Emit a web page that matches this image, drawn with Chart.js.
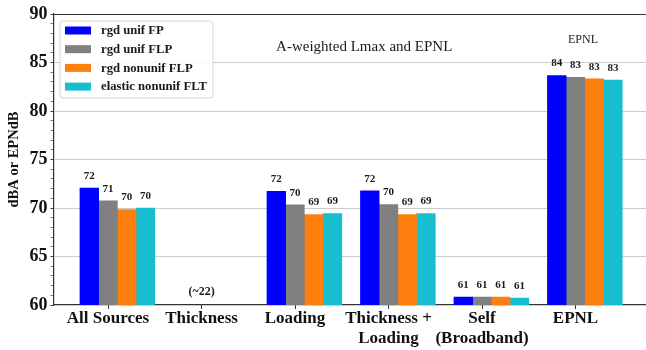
<!DOCTYPE html>
<html>
<head>
<meta charset="utf-8">
<script src="https://cdn.jsdelivr.net/npm/chart.js@4/dist/chart.umd.min.js"></script>
<style>
  html, body { margin: 0; padding: 0; background: #fff; }
  #wrap { width: 646px; height: 350px; }
</style>
</head>
<body>
<div id="wrap"><canvas id="c" width="646" height="350"></canvas></div>
<script>
// Source categories along the x axis
const categories = ['All Sources', 'Thickness', 'Loading', ['Thickness +', 'Loading'], ['Self', '(Broadband)'], 'EPNL'];

// Series names
const seriesNames = ['rgd unif FP', 'rgd unif FLP', 'rgd nonunif FLP', 'elastic nonunif FLT'];

// Levels in dBA (Lmax) or EPNdB (EPNL column)
const rgdUnifFP         = [72.05, 22, 71.73, 71.77, 60.82, 83.65];
const rgdUnifFLP        = [70.75, 22, 70.32, 70.35, 60.82, 83.46];
const rgdNonunifFLP     = [69.85, 22, 69.32, 69.32, 60.82, 83.32];
const elasticNonunifFLT = [70.00, 22, 69.42, 69.42, 60.72, 83.18];

// Y axis tick values
const yTicks = [60, 65, 70, 75, 80, 85, 90];

const seriesValues = [rgdUnifFP, rgdUnifFLP, rgdNonunifFLP, elasticNonunifFLT];
const seriesColors = ['#0000ff', '#808080', '#ff7f0e', '#17becf'];
const barWidth = 0.2;   // bar width in category units
const SERIF = "'Liberation Serif', 'Times New Roman', serif";

const datasets = seriesValues.map((vals, k) => ({
  label: seriesNames[k],
  backgroundColor: seriesColors[k],
  borderWidth: 0,
  grouped: false,
  categoryPercentage: 1.0,
  barPercentage: 1.0,
  data: vals.map((v, i) => ({ x: i + (k - 1) * barWidth, y: v }))
}));

// Value labels above bars; off-scale groups get a single "(~N)" note
const valueLabels = {
  id: 'valueLabels',
  afterDatasetsDraw(chart) {
    const ctx = chart.ctx;
    const y = chart.scales.y, x = chart.scales.x;
    ctx.save();
    ctx.fillStyle = '#1a1a1a';
    ctx.textAlign = 'center';
    ctx.textBaseline = 'middle';
    ctx.font = 'bold 11px ' + SERIF;
    chart.data.datasets.forEach((ds, k) => {
      const meta = chart.getDatasetMeta(k);
      meta.data.forEach((bar, i) => {
        const v = ds.data[i].y;
        if (v >= y.min) ctx.fillText(String(Math.round(v)), bar.x, bar.y - 12);
      });
    });
    ctx.font = 'bold 12px ' + SERIF;
    categories.forEach((c, i) => {
      const vals = seriesValues.map(s => s[i]);
      if (vals.every(v => v < y.min)) {
        const v = Math.round(Math.min(...vals));
        ctx.fillText('(~' + v + ')', x.getPixelForValue(i), chart.chartArea.bottom - 13);
      }
    });
    ctx.restore();
  }
};

// In-plot legend, titles and top frame line
const decorations = {
  id: 'decorations',
  afterDraw(chart) {
    const ctx = chart.ctx;
    const a = chart.chartArea;
    const x = chart.scales.x, y = chart.scales.y;
    ctx.save();
    // top frame
    ctx.strokeStyle = '#333';
    ctx.lineWidth = 1.2;
    ctx.beginPath();
    ctx.moveTo(a.left, Math.round(a.top) + 0.5);
    ctx.lineTo(a.right, Math.round(a.top) + 0.5);
    ctx.stroke();

    // text annotations
    ctx.fillStyle = '#1a1a1a';
    ctx.textAlign = 'center';
    ctx.textBaseline = 'middle';
    ctx.font = '15px ' + SERIF;
    ctx.fillText('A-weighted Lmax and EPNL', x.getPixelForValue(2.74), y.getPixelForValue(86.6));
    ctx.font = '12px ' + SERIF;
    ctx.fillText('EPNL', x.getPixelForValue(5.08), y.getPixelForValue(87.3));

    // legend box
    const lx = a.left + 6.5, ly = a.top + 7, lw = 153, lh = 77;
    ctx.fillStyle = 'rgba(255,255,255,0.85)';
    ctx.strokeStyle = '#d4d4d4';
    ctx.lineWidth = 1;
    ctx.beginPath();
    ctx.roundRect(lx, ly, lw, lh, 3);
    ctx.fill();
    ctx.stroke();
    ctx.font = 'bold 12.7px ' + SERIF;
    ctx.textAlign = 'left';
    chart.data.datasets.forEach((ds, k) => {
      const ry = ly + 9.5 + k * 18.7;
      ctx.fillStyle = ds.backgroundColor;
      ctx.fillRect(lx + 5, ry - 4, 26, 8);
      ctx.fillStyle = '#1a1a1a';
      ctx.fillText(ds.label, lx + 41, ry + 0.5);
    });
    ctx.restore();
  }
};

new Chart(document.getElementById('c'), {
  type: 'bar',
  data: { datasets },
  plugins: [valueLabels, decorations],
  options: {
    responsive: false,
    animation: false,
    events: [],
    layout: { padding: { top: 14, right: 0, left: 0, bottom: 0 } },
    plugins: { legend: { display: false }, tooltip: { enabled: false } },
    scales: {
      x: {
        type: 'linear',
        offset: false,
        min: -0.583,
        max: 5.754,
        afterBuildTicks: (s) => { s.ticks = categories.map((c, i) => ({ value: i })); },
        afterFit: (s) => { s.height = 45; },
        ticks: {
          autoSkip: false,
          maxRotation: 0,
          padding: 0,
          color: '#111',
          font: { family: SERIF, size: 17, weight: 'bold', lineHeight: 1.18 },
          callback: (v) => categories[Math.round(v)]
        },
        grid: { offset: false, drawOnChartArea: false, drawTicks: true, tickLength: 4, tickColor: '#333', tickWidth: 1 },
        border: { display: true, color: '#333', width: 1.2 }
      },
      y: {
        min: 60,
        max: 90,
        afterBuildTicks: (s) => {
          const t = [];
          for (let v = yTicks[0]; v <= yTicks[yTicks.length - 1]; v++) t.push({ value: v });
          s.ticks = t;
        },
        afterFit: (s) => { s.width = 53.5; },
        ticks: {
          autoSkip: false,
          padding: 3,
          color: '#111',
          font: { family: SERIF, size: 18, weight: 'bold' },
          callback: (v) => yTicks.includes(v) ? String(v) : ''
        },
        grid: {
          color: (c) => (c.tick && yTicks.includes(c.tick.value) && c.tick.value !== 60 && c.tick.value !== 90) ? '#cccccc' : 'rgba(0,0,0,0)',
          lineWidth: 1,
          tickLength: 3,
          tickColor: '#444',
          tickWidth: (c) => (c.tick && yTicks.includes(c.tick.value)) ? 1 : 0.7
        },
        border: { display: true, color: '#333', width: 1.2 },
        title: {
          display: true,
          text: 'dBA or EPNdB',
          color: '#111',
          font: { family: SERIF, size: 14.5, weight: 'bold' },
          padding: { top: 6, bottom: 0 }
        }
      }
    }
  }
});
</script>
</body>
</html>
